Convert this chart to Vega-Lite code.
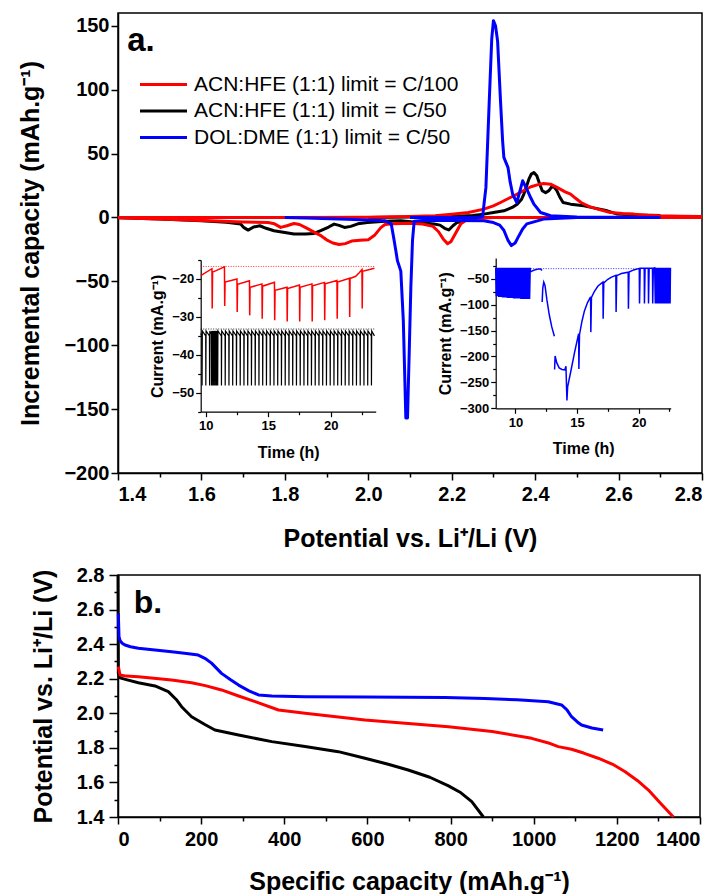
{
"$schema":"https://vega.github.io/schema/vega-lite/v6.json",
"background":"white",
"padding":{"left":18,"top":12,"right":4,"bottom":5},
"bounds":"flush",
"spacing":102,
"resolve":{"scale":{"color":"independent"}},
"config":{
 "view":{"stroke":"black","strokeWidth":1.5},
 "axis":{"grid":false,"labelOverlap":false,"labelFont":"Liberation Sans","titleFont":"Liberation Sans","labelFontWeight":"bold","titleFontWeight":"bold","labelColor":"black","titleColor":"black","domainColor":"black","tickColor":"black"}
},
"datasets":{
"ic":[
{"s":"k","b":"kd","v":2.3,"q":0},{"s":"k","b":"kd","v":2.26,"q":-0.5},{"s":"k","b":"kd","v":2.24,"q":-1.3},{"s":"k","b":"kd","v":2.225,"q":-3},{"s":"k","b":"kd","v":2.213,"q":-3.9},{"s":"k","b":"kd","v":2.203,"q":-6.5},{"s":"k","b":"kd","v":2.193,"q":-9.8},{"s":"k","b":"kd","v":2.183,"q":-8.5},{"s":"k","b":"kd","v":2.172,"q":-6},{"s":"k","b":"kd","v":2.158,"q":-5.2},{"s":"k","b":"kd","v":2.12,"q":-4},{"s":"k","b":"kd","v":2.078,"q":-2.6},{"s":"k","b":"kd","v":2.04,"q":-3},{"s":"k","b":"kd","v":1.998,"q":-3.9},{"s":"k","b":"kd","v":1.975,"q":-5},{"s":"k","b":"kd","v":1.958,"q":-7},{"s":"k","b":"kd","v":1.943,"q":-7.8},{"s":"k","b":"kd","v":1.93,"q":-6.2},{"s":"k","b":"kd","v":1.918,"q":-5.2},{"s":"k","b":"kd","v":1.905,"q":-7.5},{"s":"k","b":"kd","v":1.886,"q":-10.4},{"s":"k","b":"kd","v":1.87,"q":-12.5},{"s":"k","b":"kd","v":1.85,"q":-13},{"s":"k","b":"kd","v":1.822,"q":-13},{"s":"k","b":"kd","v":1.8,"q":-11.8},{"s":"k","b":"kd","v":1.774,"q":-10.4},{"s":"k","b":"kd","v":1.755,"q":-8.5},{"s":"k","b":"kd","v":1.74,"q":-6.5},{"s":"k","b":"kd","v":1.725,"q":-7.5},{"s":"k","b":"kd","v":1.712,"q":-9.9},{"s":"k","b":"kd","v":1.702,"q":-8},{"s":"k","b":"kd","v":1.694,"q":-5.2},{"s":"k","b":"kd","v":1.66,"q":-3.8},{"s":"k","b":"kd","v":1.6,"q":-2.5},{"s":"k","b":"kd","v":1.5,"q":-1.2},{"s":"k","b":"kd","v":1.4,"q":-0.3},
{"s":"k","b":"kc","v":2.0,"q":0},{"s":"k","b":"kc","v":2.1,"q":0.3},{"s":"k","b":"kc","v":2.2,"q":0.8},{"s":"k","b":"kc","v":2.25,"q":1.5},{"s":"k","b":"kc","v":2.277,"q":2.6},{"s":"k","b":"kc","v":2.3,"q":3.9},{"s":"k","b":"kc","v":2.325,"q":5.2},{"s":"k","b":"kc","v":2.345,"q":7.8},{"s":"k","b":"kc","v":2.357,"q":10.4},{"s":"k","b":"kc","v":2.367,"q":14},{"s":"k","b":"kc","v":2.373,"q":18.3},{"s":"k","b":"kc","v":2.379,"q":24},{"s":"k","b":"kc","v":2.385,"q":30},{"s":"k","b":"kc","v":2.391,"q":34},{"s":"k","b":"kc","v":2.397,"q":35.2},{"s":"k","b":"kc","v":2.404,"q":32.6},{"s":"k","b":"kc","v":2.41,"q":27},{"s":"k","b":"kc","v":2.417,"q":20.9},{"s":"k","b":"kc","v":2.425,"q":19.4},{"s":"k","b":"kc","v":2.433,"q":21},{"s":"k","b":"kc","v":2.44,"q":24},{"s":"k","b":"kc","v":2.446,"q":23.5},{"s":"k","b":"kc","v":2.452,"q":21},{"s":"k","b":"kc","v":2.459,"q":16},{"s":"k","b":"kc","v":2.467,"q":11.7},{"s":"k","b":"kc","v":2.485,"q":10.4},{"s":"k","b":"kc","v":2.517,"q":9.2},{"s":"k","b":"kc","v":2.54,"q":7.5},{"s":"k","b":"kc","v":2.573,"q":5.2},{"s":"k","b":"kc","v":2.597,"q":2.6},{"s":"k","b":"kc","v":2.64,"q":2},{"s":"k","b":"kc","v":2.677,"q":1.8},{"s":"k","b":"kc","v":2.7,"q":1.5},
{"s":"r","b":"rd","v":2.8,"q":0},{"s":"r","b":"rd","v":2.6,"q":0},{"s":"r","b":"rd","v":2.4,"q":0},{"s":"r","b":"rd","v":2.3,"q":0},{"s":"r","b":"rd","v":2.26,"q":-0.5},{"s":"r","b":"rd","v":2.235,"q":-2},{"s":"r","b":"rd","v":2.222,"q":-5},{"s":"r","b":"rd","v":2.21,"q":-12},{"s":"r","b":"rd","v":2.198,"q":-19},{"s":"r","b":"rd","v":2.19,"q":-20.5},{"s":"r","b":"rd","v":2.18,"q":-17},{"s":"r","b":"rd","v":2.168,"q":-11},{"s":"r","b":"rd","v":2.155,"q":-7},{"s":"r","b":"rd","v":2.13,"q":-5.2},{"s":"r","b":"rd","v":2.1,"q":-4.5},{"s":"r","b":"rd","v":2.06,"q":-5},{"s":"r","b":"rd","v":2.04,"q":-5.5},{"s":"r","b":"rd","v":2.03,"q":-8},{"s":"r","b":"rd","v":2.015,"q":-14},{"s":"r","b":"rd","v":2.0,"q":-17.5},{"s":"r","b":"rd","v":1.98,"q":-17.8},{"s":"r","b":"rd","v":1.96,"q":-18.5},{"s":"r","b":"rd","v":1.945,"q":-20.5},{"s":"r","b":"rd","v":1.93,"q":-21.2},{"s":"r","b":"rd","v":1.915,"q":-20},{"s":"r","b":"rd","v":1.9,"q":-17.5},{"s":"r","b":"rd","v":1.885,"q":-14},{"s":"r","b":"rd","v":1.87,"q":-11.5},{"s":"r","b":"rd","v":1.85,"q":-8},{"s":"r","b":"rd","v":1.835,"q":-5.5},{"s":"r","b":"rd","v":1.822,"q":-4.7},{"s":"r","b":"rd","v":1.805,"q":-6.5},{"s":"r","b":"rd","v":1.79,"q":-7.8},{"s":"r","b":"rd","v":1.775,"q":-5},{"s":"r","b":"rd","v":1.76,"q":-3.9},{"s":"r","b":"rd","v":1.7,"q":-3.5},{"s":"r","b":"rd","v":1.6,"q":-2.3},{"s":"r","b":"rd","v":1.5,"q":-1.2},{"s":"r","b":"rd","v":1.4,"q":-0.3},
{"s":"r","b":"rc","v":1.4,"q":0},{"s":"r","b":"rc","v":1.6,"q":0},{"s":"r","b":"rc","v":1.8,"q":0},{"s":"r","b":"rc","v":2.0,"q":0.2},{"s":"r","b":"rc","v":2.1,"q":0.8},{"s":"r","b":"rc","v":2.16,"q":1.3},{"s":"r","b":"rc","v":2.2,"q":2.5},{"s":"r","b":"rc","v":2.24,"q":3.9},{"s":"r","b":"rc","v":2.277,"q":6.5},{"s":"r","b":"rc","v":2.3,"q":9},{"s":"r","b":"rc","v":2.317,"q":11.7},{"s":"r","b":"rc","v":2.337,"q":15},{"s":"r","b":"rc","v":2.357,"q":18.3},{"s":"r","b":"rc","v":2.375,"q":21.5},{"s":"r","b":"rc","v":2.39,"q":24},{"s":"r","b":"rc","v":2.405,"q":25.5},{"s":"r","b":"rc","v":2.42,"q":26.6},{"s":"r","b":"rc","v":2.437,"q":26},{"s":"r","b":"rc","v":2.45,"q":24},{"s":"r","b":"rc","v":2.46,"q":22.2},{"s":"r","b":"rc","v":2.472,"q":20},{"s":"r","b":"rc","v":2.485,"q":18.3},{"s":"r","b":"rc","v":2.497,"q":15},{"s":"r","b":"rc","v":2.51,"q":11.7},{"s":"r","b":"rc","v":2.53,"q":8.5},{"s":"r","b":"rc","v":2.55,"q":6.5},{"s":"r","b":"rc","v":2.58,"q":3.9},{"s":"r","b":"rc","v":2.61,"q":3},{"s":"r","b":"rc","v":2.637,"q":2.6},{"s":"r","b":"rc","v":2.67,"q":1.8},{"s":"r","b":"rc","v":2.7,"q":1.3},{"s":"r","b":"rc","v":2.75,"q":1},{"s":"r","b":"rc","v":2.8,"q":0.8},
{"s":"b","b":"bd","v":2.7,"q":0},{"s":"b","b":"bd","v":2.5,"q":0},{"s":"b","b":"bd","v":2.42,"q":-1.3},{"s":"b","b":"bd","v":2.397,"q":-3.5},{"s":"b","b":"bd","v":2.38,"q":-5},{"s":"b","b":"bd","v":2.37,"q":-9},{"s":"b","b":"bd","v":2.36,"q":-15},{"s":"b","b":"bd","v":2.352,"q":-20},{"s":"b","b":"bd","v":2.343,"q":-22},{"s":"b","b":"bd","v":2.335,"q":-18},{"s":"b","b":"bd","v":2.325,"q":-10},{"s":"b","b":"bd","v":2.315,"q":-6},{"s":"b","b":"bd","v":2.3,"q":-4},{"s":"b","b":"bd","v":2.277,"q":-2.6},{"s":"b","b":"bd","v":2.2,"q":-2.3},{"s":"b","b":"bd","v":2.13,"q":-2.3},{"s":"b","b":"bd","v":2.11,"q":-3},{"s":"b","b":"bd","v":2.106,"q":-18},{"s":"b","b":"bd","v":2.102,"q":-55},{"s":"b","b":"bd","v":2.098,"q":-107},{"s":"b","b":"bd","v":2.094,"q":-157},{"s":"b","b":"bd","v":2.09,"q":-157},{"s":"b","b":"bd","v":2.084,"q":-81},{"s":"b","b":"bd","v":2.078,"q":-42},{"s":"b","b":"bd","v":2.07,"q":-34},{"s":"b","b":"bd","v":2.062,"q":-18},{"s":"b","b":"bd","v":2.055,"q":-5},{"s":"b","b":"bd","v":2.04,"q":-2.6},{"s":"b","b":"bd","v":1.95,"q":-1.5},{"s":"b","b":"bd","v":1.85,"q":-0.5},{"s":"b","b":"bd","v":1.8,"q":0},
{"s":"b","b":"bc","v":2.1,"q":0},{"s":"b","b":"bc","v":2.2,"q":0},{"s":"b","b":"bc","v":2.26,"q":0},{"s":"b","b":"bc","v":2.274,"q":0.5},{"s":"b","b":"bc","v":2.282,"q":23.5},{"s":"b","b":"bc","v":2.29,"q":91},{"s":"b","b":"bc","v":2.296,"q":140},{"s":"b","b":"bc","v":2.3,"q":154},{"s":"b","b":"bc","v":2.305,"q":150},{"s":"b","b":"bc","v":2.31,"q":138},{"s":"b","b":"bc","v":2.317,"q":91},{"s":"b","b":"bc","v":2.322,"q":60},{"s":"b","b":"bc","v":2.325,"q":47},{"s":"b","b":"bc","v":2.335,"q":39},{"s":"b","b":"bc","v":2.34,"q":28},{"s":"b","b":"bc","v":2.346,"q":18.3},{"s":"b","b":"bc","v":2.356,"q":11.7},{"s":"b","b":"bc","v":2.363,"q":20},{"s":"b","b":"bc","v":2.37,"q":28.7},{"s":"b","b":"bc","v":2.38,"q":22.2},{"s":"b","b":"bc","v":2.39,"q":15},{"s":"b","b":"bc","v":2.397,"q":10.4},{"s":"b","b":"bc","v":2.413,"q":3.9},{"s":"b","b":"bc","v":2.437,"q":1.3},{"s":"b","b":"bc","v":2.5,"q":0.3},{"s":"b","b":"bc","v":2.7,"q":0}
],
"i1":[
{"s":"dr","t":9.6,"c":-16.7},{"s":"dr","t":23.6,"c":-16.7},{"s":"dk","t":9.6,"c":-33.2},{"s":"dk","t":23.6,"c":-33.2},
{"s":"r","t":9.6,"c":-19.1},{"s":"r","t":10.5,"c":-17.3},{"s":"r","t":10.52,"c":-27.8},{"s":"r","t":10.55,"c":-18.2},{"s":"r","t":11.5,"c":-16.8},{"s":"r","t":11.52,"c":-27.1},{"s":"r","t":11.55,"c":-20.8},{"s":"r","t":12.5,"c":-20},{"s":"r","t":12.52,"c":-28.7},{"s":"r","t":12.55,"c":-21.4},{"s":"r","t":13.5,"c":-20.5},{"s":"r","t":13.52,"c":-29.6},{"s":"r","t":13.55,"c":-22.2},{"s":"r","t":14.5,"c":-21.3},{"s":"r","t":14.52,"c":-30.5},{"s":"r","t":14.55,"c":-21.9},{"s":"r","t":15.5,"c":-20.9},{"s":"r","t":15.52,"c":-30.9},{"s":"r","t":15.55,"c":-23},{"s":"r","t":16.5,"c":-22.2},{"s":"r","t":16.52,"c":-31.2},{"s":"r","t":16.55,"c":-22.5},{"s":"r","t":17.5,"c":-21.6},{"s":"r","t":17.52,"c":-31.2},{"s":"r","t":17.55,"c":-22.2},{"s":"r","t":18.5,"c":-21.3},{"s":"r","t":18.52,"c":-31.2},{"s":"r","t":18.55,"c":-21.8},{"s":"r","t":19.5,"c":-20.9},{"s":"r","t":19.52,"c":-30.9},{"s":"r","t":19.55,"c":-21.3},{"s":"r","t":20.5,"c":-20.4},{"s":"r","t":20.52,"c":-30.5},{"s":"r","t":20.55,"c":-20.8},{"s":"r","t":21.5,"c":-19.8},{"s":"r","t":21.52,"c":-30},{"s":"r","t":21.55,"c":-19.9},{"s":"r","t":22.0,"c":-19.3},{"s":"r","t":22.3,"c":-18.3},{"s":"r","t":22.5,"c":-17.5},{"s":"r","t":22.52,"c":-27.8},{"s":"r","t":22.55,"c":-18},{"s":"r","t":23.5,"c":-17.2},
{"s":"k","t":9.6,"c":-34.4},
{"s":"k","t":9.7,"c":-35},{"s":"k","t":9.71,"c":-48.1},{"s":"k","t":9.73,"c":-33.7},
{"s":"k","t":10.0,"c":-35},{"s":"k","t":10.01,"c":-48.1},{"s":"k","t":10.03,"c":-33.7},
{"s":"k","t":10.3,"c":-35},{"s":"k","t":10.31,"c":-48.1},{"s":"k","t":10.33,"c":-33.7},
{"s":"k","t":10.45,"c":-34.5},{"s":"k","t":10.46,"c":-48.1},{"s":"k","t":10.48,"c":-33.7},
{"s":"k","t":10.55,"c":-34.5},{"s":"k","t":10.56,"c":-48.1},{"s":"k","t":10.58,"c":-33.7},
{"s":"k","t":10.65,"c":-34.5},{"s":"k","t":10.66,"c":-48.1},{"s":"k","t":10.68,"c":-33.7},
{"s":"k","t":10.75,"c":-34.5},{"s":"k","t":10.76,"c":-48.1},{"s":"k","t":10.78,"c":-33.7},
{"s":"k","t":10.85,"c":-34.5},{"s":"k","t":10.86,"c":-48.1},{"s":"k","t":10.88,"c":-33.7},
{"s":"k","t":10.95,"c":-34.5},{"s":"k","t":10.96,"c":-48.1},{"s":"k","t":10.98,"c":-33.7},
{"s":"k","t":11.25,"c":-35},{"s":"k","t":11.26,"c":-48.1},{"s":"k","t":11.28,"c":-33.7},
{"s":"k","t":11.55,"c":-35},{"s":"k","t":11.56,"c":-48.1},{"s":"k","t":11.58,"c":-33.7},
{"s":"k","t":11.85,"c":-35},{"s":"k","t":11.86,"c":-48.1},{"s":"k","t":11.88,"c":-33.7},
{"s":"k","t":12.15,"c":-35},{"s":"k","t":12.16,"c":-48.1},{"s":"k","t":12.18,"c":-33.7},
{"s":"k","t":12.45,"c":-35},{"s":"k","t":12.46,"c":-48.1},{"s":"k","t":12.48,"c":-33.7},
{"s":"k","t":12.75,"c":-35},{"s":"k","t":12.76,"c":-48.1},{"s":"k","t":12.78,"c":-33.7},
{"s":"k","t":13.05,"c":-35},{"s":"k","t":13.06,"c":-48.1},{"s":"k","t":13.08,"c":-33.7},
{"s":"k","t":13.35,"c":-35},{"s":"k","t":13.36,"c":-48.1},{"s":"k","t":13.38,"c":-33.7},
{"s":"k","t":13.65,"c":-35},{"s":"k","t":13.66,"c":-48.1},{"s":"k","t":13.68,"c":-33.7},
{"s":"k","t":13.95,"c":-35},{"s":"k","t":13.96,"c":-48.1},{"s":"k","t":13.98,"c":-33.7},
{"s":"k","t":14.25,"c":-35},{"s":"k","t":14.26,"c":-48.1},{"s":"k","t":14.28,"c":-33.7},
{"s":"k","t":14.55,"c":-35},{"s":"k","t":14.56,"c":-48.1},{"s":"k","t":14.58,"c":-33.7},
{"s":"k","t":14.85,"c":-35},{"s":"k","t":14.86,"c":-48.1},{"s":"k","t":14.88,"c":-33.7},
{"s":"k","t":15.15,"c":-35},{"s":"k","t":15.16,"c":-48.1},{"s":"k","t":15.18,"c":-33.7},
{"s":"k","t":15.45,"c":-35},{"s":"k","t":15.46,"c":-48.1},{"s":"k","t":15.48,"c":-33.7},
{"s":"k","t":15.75,"c":-35},{"s":"k","t":15.76,"c":-48.1},{"s":"k","t":15.78,"c":-33.7},
{"s":"k","t":16.05,"c":-35},{"s":"k","t":16.06,"c":-48.1},{"s":"k","t":16.08,"c":-33.7},
{"s":"k","t":16.35,"c":-35},{"s":"k","t":16.36,"c":-48.1},{"s":"k","t":16.38,"c":-33.7},
{"s":"k","t":16.65,"c":-35},{"s":"k","t":16.66,"c":-48.1},{"s":"k","t":16.68,"c":-33.7},
{"s":"k","t":16.95,"c":-35},{"s":"k","t":16.96,"c":-48.1},{"s":"k","t":16.98,"c":-33.7},
{"s":"k","t":17.25,"c":-35},{"s":"k","t":17.26,"c":-48.1},{"s":"k","t":17.28,"c":-33.7},
{"s":"k","t":17.55,"c":-35},{"s":"k","t":17.56,"c":-48.1},{"s":"k","t":17.58,"c":-33.7},
{"s":"k","t":17.85,"c":-35},{"s":"k","t":17.86,"c":-48.1},{"s":"k","t":17.88,"c":-33.7},
{"s":"k","t":18.15,"c":-35},{"s":"k","t":18.16,"c":-48.1},{"s":"k","t":18.18,"c":-33.7},
{"s":"k","t":18.45,"c":-35},{"s":"k","t":18.46,"c":-48.1},{"s":"k","t":18.48,"c":-33.7},
{"s":"k","t":18.75,"c":-35},{"s":"k","t":18.76,"c":-48.1},{"s":"k","t":18.78,"c":-33.7},
{"s":"k","t":19.05,"c":-35},{"s":"k","t":19.06,"c":-48.1},{"s":"k","t":19.08,"c":-33.7},
{"s":"k","t":19.35,"c":-35},{"s":"k","t":19.36,"c":-48.1},{"s":"k","t":19.38,"c":-33.7},
{"s":"k","t":19.65,"c":-35},{"s":"k","t":19.66,"c":-48.1},{"s":"k","t":19.68,"c":-33.7},
{"s":"k","t":19.95,"c":-35},{"s":"k","t":19.96,"c":-48.1},{"s":"k","t":19.98,"c":-33.7},
{"s":"k","t":20.25,"c":-35},{"s":"k","t":20.26,"c":-48.1},{"s":"k","t":20.28,"c":-33.7},
{"s":"k","t":20.55,"c":-35},{"s":"k","t":20.56,"c":-48.1},{"s":"k","t":20.58,"c":-33.7},
{"s":"k","t":20.85,"c":-35},{"s":"k","t":20.86,"c":-48.1},{"s":"k","t":20.88,"c":-33.7},
{"s":"k","t":21.15,"c":-35},{"s":"k","t":21.16,"c":-48.1},{"s":"k","t":21.18,"c":-33.7},
{"s":"k","t":21.45,"c":-35},{"s":"k","t":21.46,"c":-48.1},{"s":"k","t":21.48,"c":-33.7},
{"s":"k","t":21.75,"c":-35},{"s":"k","t":21.76,"c":-48.1},{"s":"k","t":21.78,"c":-33.7},
{"s":"k","t":22.05,"c":-35},{"s":"k","t":22.06,"c":-48.1},{"s":"k","t":22.08,"c":-33.7},
{"s":"k","t":22.35,"c":-35},{"s":"k","t":22.36,"c":-48.1},{"s":"k","t":22.38,"c":-33.7},
{"s":"k","t":22.65,"c":-35},{"s":"k","t":22.66,"c":-48.1},{"s":"k","t":22.68,"c":-33.7},
{"s":"k","t":22.95,"c":-35},{"s":"k","t":22.96,"c":-48.1},{"s":"k","t":22.98,"c":-33.7},
{"s":"k","t":23.25,"c":-35},{"s":"k","t":23.26,"c":-48.1},{"s":"k","t":23.28,"c":-33.7},
{"s":"k","t":23.5,"c":-35}
],
"i2":[
{"g":"dot","t":8.4,"c":-30.5},{"g":"dot","t":22.6,"c":-30.5},
{"g":"a","t":8.4,"c":-29},{"g":"a","t":8.45,"c":-84},{"g":"a","t":8.5,"c":-29},{"g":"a","t":8.55,"c":-84},{"g":"a","t":8.6,"c":-29},{"g":"a","t":8.65,"c":-85},{"g":"a","t":8.7,"c":-29},{"g":"a","t":8.75,"c":-85},{"g":"a","t":8.8,"c":-29},{"g":"a","t":8.85,"c":-85},{"g":"a","t":8.9,"c":-29},{"g":"a","t":8.95,"c":-86},{"g":"a","t":9.0,"c":-29},{"g":"a","t":9.05,"c":-86},{"g":"a","t":9.1,"c":-29},{"g":"a","t":9.15,"c":-86},{"g":"a","t":9.2,"c":-29},{"g":"a","t":9.25,"c":-86},{"g":"a","t":9.3,"c":-29},{"g":"a","t":9.35,"c":-87},{"g":"a","t":9.4,"c":-29},{"g":"a","t":9.45,"c":-87},{"g":"a","t":9.5,"c":-29},{"g":"a","t":9.55,"c":-87},{"g":"a","t":9.6,"c":-29},{"g":"a","t":9.65,"c":-87},{"g":"a","t":9.7,"c":-29},{"g":"a","t":9.75,"c":-87},{"g":"a","t":9.8,"c":-29},{"g":"a","t":9.85,"c":-88},{"g":"a","t":9.9,"c":-29},{"g":"a","t":9.95,"c":-88},{"g":"a","t":10.0,"c":-29},{"g":"a","t":10.05,"c":-88},{"g":"a","t":10.1,"c":-29},{"g":"a","t":10.15,"c":-88},{"g":"a","t":10.2,"c":-29},{"g":"a","t":10.25,"c":-88},{"g":"a","t":10.3,"c":-29},{"g":"a","t":10.35,"c":-88},{"g":"a","t":10.4,"c":-29},{"g":"a","t":10.45,"c":-89},{"g":"a","t":10.5,"c":-29},{"g":"a","t":10.55,"c":-89},{"g":"a","t":10.6,"c":-29},{"g":"a","t":10.65,"c":-89},{"g":"a","t":10.7,"c":-29},{"g":"a","t":10.75,"c":-89},{"g":"a","t":10.8,"c":-29},{"g":"a","t":10.85,"c":-89},{"g":"a","t":10.9,"c":-29},{"g":"a","t":10.95,"c":-89},{"g":"a","t":11.0,"c":-29},{"g":"a","t":11.05,"c":-89},{"g":"a","t":11.1,"c":-29},{"g":"a","t":11.15,"c":-89},{"g":"a","t":11.2,"c":-29},
{"g":"a","t":11.22,"c":-37},{"g":"a","t":11.45,"c":-34},{"g":"a","t":11.62,"c":-32.5},{"g":"a","t":11.9,"c":-31},{"g":"a","t":12.03,"c":-31},{"g":"a","t":12.16,"c":-34},
{"g":"c","t":12.17,"c":-95},{"g":"c","t":12.22,"c":-68},{"g":"c","t":12.3,"c":-56.5},{"g":"c","t":12.4,"c":-63},{"g":"c","t":12.55,"c":-90},{"g":"c","t":12.75,"c":-120},{"g":"c","t":12.95,"c":-143},{"g":"c","t":13.16,"c":-161},
{"g":"d","t":13.18,"c":-225},{"g":"d","t":13.22,"c":-199},{"g":"d","t":13.35,"c":-212},{"g":"d","t":13.55,"c":-222},{"g":"d","t":13.78,"c":-225},{"g":"d","t":14.0,"c":-226},{"g":"d","t":14.1,"c":-219},{"g":"d","t":14.18,"c":-285},{"g":"d","t":14.24,"c":-258},{"g":"d","t":14.5,"c":-228},{"g":"d","t":14.8,"c":-192},{"g":"d","t":15.13,"c":-156},{"g":"d","t":15.15,"c":-224},{"g":"d","t":15.2,"c":-158},{"g":"d","t":15.4,"c":-132},{"g":"d","t":15.6,"c":-112},{"g":"d","t":15.85,"c":-96},{"g":"d","t":16.1,"c":-85},{"g":"d","t":16.12,"c":-153},{"g":"d","t":16.17,"c":-86},{"g":"d","t":16.4,"c":-75},{"g":"d","t":16.7,"c":-64},{"g":"d","t":17.1,"c":-56.5},{"g":"d","t":17.12,"c":-127},{"g":"d","t":17.17,"c":-58},{"g":"d","t":17.5,"c":-51},{"g":"d","t":17.8,"c":-47},{"g":"d","t":18.15,"c":-43.6},{"g":"d","t":18.17,"c":-114},{"g":"d","t":18.22,"c":-44},{"g":"d","t":18.6,"c":-40},{"g":"d","t":19.15,"c":-37.3},{"g":"d","t":19.17,"c":-108},{"g":"d","t":19.22,"c":-37},{"g":"d","t":19.6,"c":-33},{"g":"d","t":20.05,"c":-30},{"g":"d","t":20.07,"c":-98},{"g":"d","t":20.12,"c":-30},{"g":"d","t":20.45,"c":-30},{"g":"d","t":20.47,"c":-98},{"g":"d","t":20.52,"c":-30},{"g":"d","t":20.78,"c":-30},{"g":"d","t":20.8,"c":-98},{"g":"d","t":20.85,"c":-30},{"g":"d","t":21.12,"c":-30},{"g":"d","t":21.14,"c":-98},{"g":"d","t":21.19,"c":-30},
{"g":"d","t":21.3,"c":-29},{"g":"d","t":21.35,"c":-98},{"g":"d","t":21.4,"c":-29},{"g":"d","t":21.45,"c":-98},{"g":"d","t":21.5,"c":-29},{"g":"d","t":21.55,"c":-98},{"g":"d","t":21.6,"c":-29},{"g":"d","t":21.65,"c":-98},{"g":"d","t":21.7,"c":-29},{"g":"d","t":21.75,"c":-98},{"g":"d","t":21.8,"c":-29},{"g":"d","t":21.85,"c":-98},{"g":"d","t":21.9,"c":-29},{"g":"d","t":21.95,"c":-98},{"g":"d","t":22.0,"c":-29},{"g":"d","t":22.05,"c":-98},{"g":"d","t":22.1,"c":-29},{"g":"d","t":22.15,"c":-98},{"g":"d","t":22.2,"c":-29},{"g":"d","t":22.25,"c":-98},{"g":"d","t":22.3,"c":-29},{"g":"d","t":22.35,"c":-98},{"g":"d","t":22.4,"c":-29},{"g":"d","t":22.45,"c":-98},{"g":"d","t":22.5,"c":-29},{"g":"d","t":22.55,"c":-98},{"g":"d","t":22.58,"c":-29}
],
"pb":[
{"s":"k","c":0,"p":2.8},{"s":"k","c":0.8,"p":2.231},{"s":"k","c":4.8,"p":2.205},{"s":"k","c":20,"p":2.195},{"s":"k","c":49,"p":2.177},{"s":"k","c":89,"p":2.158},{"s":"k","c":121,"p":2.125},{"s":"k","c":140,"p":2.08},{"s":"k","c":153,"p":2.038},{"s":"k","c":177,"p":1.98},{"s":"k","c":209,"p":1.935},{"s":"k","c":233,"p":1.903},{"s":"k","c":290,"p":1.874},{"s":"k","c":370,"p":1.836},{"s":"k","c":450,"p":1.808},{"s":"k","c":530,"p":1.778},{"s":"k","c":594,"p":1.74},{"s":"k","c":650,"p":1.705},{"s":"k","c":698,"p":1.672},{"s":"k","c":750,"p":1.63},{"s":"k","c":795,"p":1.58},{"s":"k","c":825,"p":1.54},{"s":"k","c":851,"p":1.489},{"s":"k","c":879,"p":1.4},
{"s":"r","c":0.8,"p":2.27},{"s":"r","c":4.8,"p":2.221},{"s":"r","c":20,"p":2.215},{"s":"r","c":49,"p":2.212},{"s":"r","c":129,"p":2.192},{"s":"r","c":177,"p":2.177},{"s":"r","c":210,"p":2.16},{"s":"r","c":249,"p":2.135},{"s":"r","c":290,"p":2.1},{"s":"r","c":330,"p":2.067},{"s":"r","c":386,"p":2.019},{"s":"r","c":450,"p":2.0},{"s":"r","c":594,"p":1.961},{"s":"r","c":795,"p":1.922},{"s":"r","c":900,"p":1.895},{"s":"r","c":995,"p":1.855},{"s":"r","c":1040,"p":1.825},{"s":"r","c":1059,"p":1.807},{"s":"r","c":1091,"p":1.792},{"s":"r","c":1120,"p":1.77},{"s":"r","c":1155,"p":1.74},{"s":"r","c":1190,"p":1.705},{"s":"r","c":1220,"p":1.662},{"s":"r","c":1250,"p":1.61},{"s":"r","c":1276,"p":1.556},{"s":"r","c":1305,"p":1.48},{"s":"r","c":1336,"p":1.4},
{"s":"b","c":0.8,"p":2.578},{"s":"b","c":2.4,"p":2.443},{"s":"b","c":5,"p":2.42},{"s":"b","c":10,"p":2.405},{"s":"b","c":16.8,"p":2.395},{"s":"b","c":30,"p":2.385},{"s":"b","c":49,"p":2.376},{"s":"b","c":89,"p":2.366},{"s":"b","c":129,"p":2.356},{"s":"b","c":170,"p":2.345},{"s":"b","c":193,"p":2.337},{"s":"b","c":209,"p":2.318},{"s":"b","c":225,"p":2.29},{"s":"b","c":249,"p":2.231},{"s":"b","c":270,"p":2.195},{"s":"b","c":290,"p":2.163},{"s":"b","c":315,"p":2.13},{"s":"b","c":338,"p":2.106},{"s":"b","c":370,"p":2.1},{"s":"b","c":450,"p":2.096},{"s":"b","c":594,"p":2.094},{"s":"b","c":787,"p":2.092},{"s":"b","c":883,"p":2.086},{"s":"b","c":960,"p":2.078},{"s":"b","c":1035,"p":2.067},{"s":"b","c":1067,"p":2.048},{"s":"b","c":1080,"p":2.02},{"s":"b","c":1091,"p":1.98},{"s":"b","c":1105,"p":1.95},{"s":"b","c":1115,"p":1.932},{"s":"b","c":1140,"p":1.915},{"s":"b","c":1167,"p":1.903}
]
},
"vconcat":[
{
 "width":584,"height":460,
 "resolve":{"scale":{"x":"independent","y":"independent"}},
 "layer":[
  {"layer":[
    {"data":{"name":"ic"},
     "mark":{"type":"line","strokeWidth":3,"strokeJoin":"round"},
     "encoding":{
      "x":{"field":"v","type":"quantitative","scale":{"domain":[1.4,2.8],"nice":false,"zero":false},
        "axis":{"orient":"bottom","title":"Potential vs. Li⁺/Li (V)","values":[1.4,1.5,1.6,1.7,1.8,1.9,2.0,2.1,2.2,2.3,2.4,2.5,2.6,2.7,2.8],"labelExpr":"round(datum.value*10) % 2 == 0 ? format(datum.value,'.1f') : ''","labelOverlap":false,"tickSize":{"condition":{"test":"round(datum.value*10) % 2 == 0","value":7},"value":4},"labelFontSize":20,"titleFontSize":25,"labelPadding":4,"titlePadding":22,"domainWidth":1.5,"tickWidth":1.5}},
      "y":{"field":"q","type":"quantitative","scale":{"domain":[-200,160],"nice":false,"zero":false},
        "axis":{"orient":"left","title":"Incremental capacity (mAh.g⁻¹)","values":[-200,-175,-150,-125,-100,-75,-50,-25,0,25,50,75,100,125,150],"labelExpr":"datum.value % 50 == 0 ? datum.label : ''","labelOverlap":false,"tickSize":{"condition":{"test":"datum.value % 50 == 0","value":7},"value":4},"labelFontSize":20,"titleFontSize":25,"labelPadding":2,"titlePadding":20,"domainWidth":1.5,"tickWidth":1.5}},
      "color":{"field":"s","type":"nominal","scale":{"domain":["r","k","b"],"range":["#ff0000","#000000","#0000ff"]},
        "legend":{"orient":"none","legendX":35,"legendY":61,"title":null,"symbolType":"M-4,0H4","symbolSize":138,"symbolStrokeWidth":3,"labelFont":"Liberation Sans","labelFontSize":21,"labelColor":"black","labelOffset":20,"labelLimit":0,"rowPadding":4.5,"padding":0,
          "labelExpr":"datum.label == 'r' ? 'ACN:HFE (1:1) limit = C/100' : datum.label == 'k' ? 'ACN:HFE (1:1) limit = C/50' : 'DOL:DME (1:1) limit = C/50'"}},
      "detail":{"field":"b"},
      "order":{"value":null}
     }},
    {"data":{"values":[{}]},
     "mark":{"type":"text","text":"a.","font":"Liberation Sans","fontSize":33,"fontWeight":"bold","align":"left","baseline":"alphabetic","color":"black"},
     "encoding":{"x":{"datum":1.422,"type":"quantitative"},"y":{"datum":130.4,"type":"quantitative"}}}
  ]},
  {"data":{"name":"i1"},
   "encoding":{
    "x":{"field":"t","type":"quantitative","scale":{"domain":[9.6,23.6],"range":[82.7,257.7],"nice":false,"zero":false},
      "axis":{"orient":"bottom","offset":-61.3,"title":"Time (h)","values":[10,12.5,15,17.5,20,22.5],"labelExpr":"datum.value % 5 == 0 ? datum.label : ''","labelOverlap":false,"tickSize":{"condition":{"test":"datum.value % 5 == 0","value":5},"value":3},"labelFontSize":13,"titleFontSize":16,"labelPadding":3,"titlePadding":12,"domainWidth":1.2,"tickWidth":1.2}},
    "y":{"field":"c","type":"quantitative","scale":{"domain":[-55,-15],"range":[398.7,247],"nice":false,"zero":false},
      "axis":{"orient":"left","offset":-82.7,"title":"Current (mA.g⁻¹)","values":[-55,-50,-45,-40,-35,-30,-25,-20,-15],"labelExpr":"datum.value % 10 == 0 ? datum.label : ''","labelOverlap":false,"tickSize":{"condition":{"test":"datum.value % 10 == 0","value":5},"value":3},"labelFontSize":13,"titleFontSize":16,"labelPadding":2,"titlePadding":6,"domainWidth":1.2,"tickWidth":1.2}},
    "order":{"value":null}
   },
   "layer":[
    {"transform":[{"filter":"datum.s == 'dr'"}],"mark":{"type":"line","color":"#ff0000","strokeWidth":0.8,"strokeDash":[1,1.5]}},
    {"transform":[{"filter":"datum.s == 'dk'"}],"mark":{"type":"line","color":"#000000","strokeWidth":0.8,"strokeDash":[1,1.5]}},
    {"transform":[{"filter":"datum.s == 'r'"}],"mark":{"type":"line","color":"#ff0000","strokeWidth":1.5}},
    {"transform":[{"filter":"datum.s == 'k'"}],"mark":{"type":"line","color":"#000000","strokeWidth":1.2}}
   ]},
  {"data":{"name":"i2"},
   "encoding":{
    "x":{"field":"t","type":"quantitative","scale":{"domain":[8.4,22.6],"range":[377.7,552.7],"nice":false,"zero":false},
      "axis":{"orient":"bottom","offset":-64.7,"title":"Time (h)","values":[10,12.5,15,17.5,20,22.5],"labelExpr":"datum.value % 5 == 0 ? datum.label : ''","labelOverlap":false,"tickSize":{"condition":{"test":"datum.value % 5 == 0","value":5},"value":3},"labelFontSize":13,"titleFontSize":16,"labelPadding":3,"titlePadding":11,"domainWidth":1.2,"tickWidth":1.2}},
    "y":{"field":"c","type":"quantitative","scale":{"domain":[-300,-10],"range":[395.3,245],"nice":false,"zero":false},
      "axis":{"orient":"left","offset":-377.7,"title":"Current (mA.g⁻¹)","values":[-300,-275,-250,-225,-200,-175,-150,-125,-100,-75,-50,-25],"labelExpr":"datum.value % 50 == 0 ? datum.label : ''","labelOverlap":false,"tickSize":{"condition":{"test":"datum.value % 50 == 0","value":5},"value":3},"labelFontSize":13,"titleFontSize":16,"labelPadding":2,"titlePadding":6,"domainWidth":1.2,"tickWidth":1.2}},
    "order":{"value":null}
   },
   "layer":[
    {"transform":[{"filter":"datum.g == 'dot'"}],"mark":{"type":"line","color":"#0000ff","strokeWidth":0.8,"strokeDash":[1,1.5]}},
    {"transform":[{"filter":"datum.g != 'dot'"}],"mark":{"type":"line","color":"#0000ff","strokeWidth":1.5},"encoding":{"detail":{"field":"g"}}}
   ]}
 ]
},
{
 "width":582,"height":242,
 "resolve":{"scale":{"y":"independent"}},
 "layer":[
  {"layer":[
   {"data":{"name":"pb"},
    "mark":{"type":"line","strokeWidth":3,"strokeJoin":"round"},
    "encoding":{
     "x":{"field":"c","type":"quantitative","scale":{"domain":[0,1400],"nice":false},
       "axis":{"orient":"bottom","title":"Specific capacity (mAh.g⁻¹)","values":[0,100,200,300,400,500,600,700,800,900,1000,1100,1200,1300,1400],"labelExpr":"datum.value % 200 == 0 ? datum.label : ''","labelOverlap":false,"tickSize":{"condition":{"test":"datum.value % 200 == 0","value":7},"value":4},"labelFontSize":20,"titleFontSize":25,"labelPadding":5,"titlePadding":20,"domainWidth":1.5,"tickWidth":1.5,"format":"d"}},
     "y":{"field":"p","type":"quantitative","scale":{"domain":[1.4,2.8],"nice":false,"zero":false},
       "axis":{"orient":"left","title":"Potential vs. Li⁺/Li (V)","values":[1.4,1.8,2.2,2.6],"format":".1f","labelOverlap":false,"labelFlush":false,"tickSize":9,"labelFontSize":20,"titleFontSize":25,"labelPadding":5,"titlePadding":20,"domainWidth":1.5,"tickWidth":1.5}},
     "color":{"field":"s","type":"nominal","scale":{"domain":["r","k","b"],"range":["#ff0000","#000000","#0000ff"]},"legend":null},
     "order":{"value":null}
    }},
   {"data":{"values":[{}]},
    "mark":{"type":"text","text":"b.","font":"Liberation Sans","fontSize":32,"fontWeight":"bold","align":"left","baseline":"alphabetic","color":"black"},
    "encoding":{"x":{"datum":38,"type":"quantitative"},"y":{"datum":2.58,"type":"quantitative"}}}
  ]},
  {"data":{"values":[{}]},
   "mark":{"type":"point","opacity":0},
   "encoding":{"x":{"datum":700,"type":"quantitative"},"y":{"datum":2.0,"type":"quantitative","scale":{"domain":[1.4,2.8],"nice":false,"zero":false},
     "axis":{"orient":"left","values":[1.6,2.0,2.4,2.8],"format":".1f","labelOverlap":false,"labelFlush":false,"title":null,"domain":false,"tickSize":9,"tickWidth":1.5,"labelFontSize":20,"labelPadding":5}}}},
  {"data":{"values":[{}]},
   "mark":{"type":"point","opacity":0},
   "encoding":{"x":{"datum":700,"type":"quantitative"},"y":{"datum":2.0,"type":"quantitative","scale":{"domain":[1.4,2.8],"nice":false,"zero":false},
     "axis":{"orient":"left","values":[1.5,1.7,1.9,2.1,2.3,2.5,2.7],"labels":false,"title":null,"domain":false,"tickSize":4,"tickWidth":1.5}}}}
 ]
}
]
}
